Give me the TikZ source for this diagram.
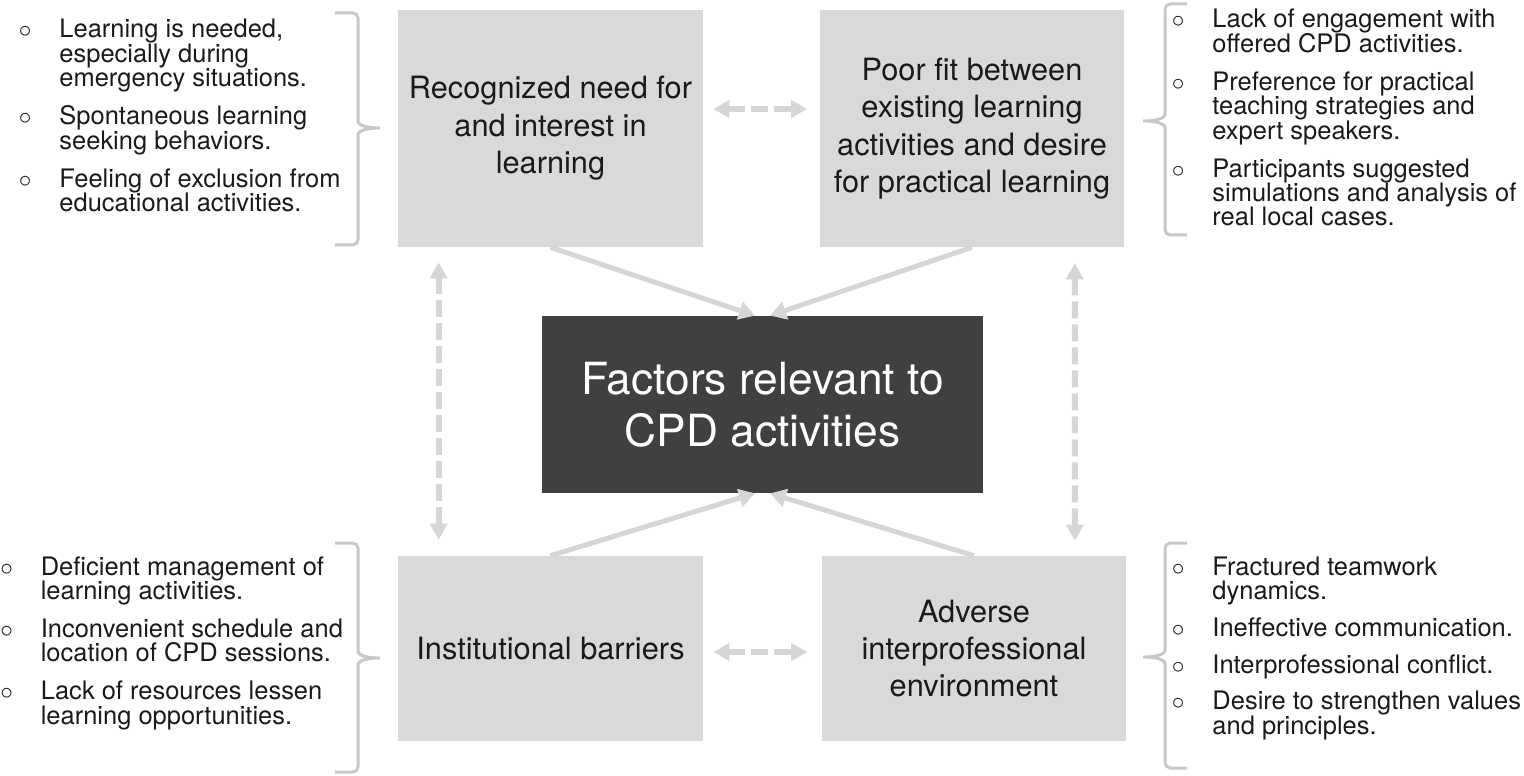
\documentclass[tikz,border=0pt]{standalone}
\usepackage{fontspec}
\usepackage{array}
\setmainfont{TeX Gyre Heros}
\usetikzlibrary{arrows.meta, positioning}
\definecolor{cbox}{HTML}{D9D9D9}
\definecolor{cdark}{HTML}{404040}
\definecolor{carrow}{HTML}{D6D6D6}
\definecolor{cbrace}{HTML}{C8C8C8}
\definecolor{ctext}{HTML}{1A1A1A}
\tikzset{
  box/.style={fill=cbox, text=ctext, align=center, minimum width=6.1cm, minimum height=4.74cm, inner sep=0pt, font=\fontsize{17.5}{21.3}\selectfont},
  core/.style={fill=cdark, text=white, align=center, minimum width=8.82cm, minimum height=3.54cm, inner sep=0pt, font=\fontsize{25.2}{29.6}\selectfont},
  flow/.style={-{Triangle[length=0.32cm, width=0.36cm]}, draw=carrow, line width=0.1cm},
  link/.style={{Triangle[length=0.32cm, width=0.34cm]}-{Triangle[length=0.32cm, width=0.34cm]}, draw=carrow, line width=0.12cm, dash pattern=on 0.34cm off 0.12cm},
  bracket/.style={draw=cbrace, line width=0.06cm, rounded corners=3pt},
  lst/.style={anchor=base west, inner sep=0pt, text=ctext, font=\fontsize{14.5}{13.9}\selectfont},
}
\newcommand{\bl}{$\circ$}
% fixed row pitch: every line is 13.9pt high
\newenvironment{points}{\renewcommand{\arraystretch}{0}%
  \begin{tabular}[t]{@{}p{0.81cm}@{}>{\rule[-3.2pt]{0pt}{13.9pt}}l@{}}}{\end{tabular}}

\begin{document}
\begin{tikzpicture}[x=0.02cm, y=-0.02cm]
  \useasboundingbox (0,0) rectangle (1524,776);

  % the five boxes
  \node[core] (fac) at (762.5,404.5) {Factors relevant to\\CPD activities};
  \node[box] (rec) at (550.5,128.5) {Recognized need for\\and interest in\\learning};
  \node[box] (poor) at (972,128.5) {Poor fit between\\existing learning\\activities and desire\\for practical learning};
  \node[box, minimum height=3.7cm] (ins) at (550.5,648.5) {Institutional barriers};
  \node[box, minimum height=3.7cm] (adv) at (974,648.5) {Adverse\\interprofessional\\environment};

  % arrows into the centre
  \draw[flow] (rec.south) -- ([xshift=-0.15cm]fac.north);
  \draw[flow] (poor.south) -- ([xshift=0.15cm]fac.north);
  \draw[flow] (ins.north) -- ([xshift=-0.15cm]fac.south);
  \draw[flow] (adv.north) -- ([xshift=0.15cm]fac.south);

  % dashed links between the outer boxes
  \draw[link] ([shift={(0.2cm,0.39cm)}]rec.east) -- ([shift={(-0.24cm,0.39cm)}]poor.west);
  \draw[link] ([shift={(0.2cm,-0.07cm)}]ins.east) -- ([shift={(-0.28cm,-0.07cm)}]adv.west);
  \draw[link] ([shift={(0.82cm,-0.3cm)}]rec.south west) -- ([shift={(0.82cm,0.32cm)}]ins.north west);
  \draw[link] ([shift={(-1.0cm,-0.32cm)}]poor.south east) -- ([shift={(-1.04cm,0.3cm)}]adv.north east);

  % brackets
  \draw[bracket] (335,13) -- (358,13) -- (358,116) .. controls (358,126) and (370,128) .. (383,128)
    .. controls (370,128) and (358,130) .. (358,140) -- (358,245) -- (335,245);
  \draw[bracket] (1187,4) -- (1165,4) -- (1165,109) .. controls (1165,119) and (1153,121) .. (1140,121)
    .. controls (1153,121) and (1165,123) .. (1165,133) -- (1165,235) -- (1187,235);
  \draw[bracket] (335,543) -- (358,543) -- (358,646) .. controls (358,656) and (370,658) .. (383,658)
    .. controls (370,658) and (358,660) .. (358,670) -- (358,772) -- (335,772);
  \draw[bracket] (1187,543) -- (1165,543) -- (1165,645) .. controls (1165,655) and (1153,657) .. (1140,657)
    .. controls (1153,657) and (1165,659) .. (1165,669) -- (1165,768) -- (1187,768);

  % lists of findings
  \node[lst] (needs) at (18.6,38) {\begin{points}
    \bl & Learning is needed,\\ & especially during\\ & emergency situations.\\[0.38cm]
    \bl & Spontaneous learning\\ & seeking behaviors.\\[0.38cm]
    \bl & Feeling of exclusion from\\ & educational activities.
  \end{points}};
  \node[lst] (fit) at (1171.6,28) {\begin{points}
    \bl & Lack of engagement with\\ & offered CPD activities.\\[0.38cm]
    \bl & Preference for practical\\ & teaching strategies and\\ & expert speakers.\\[0.38cm]
    \bl & Participants suggested\\ & simulations and analysis of\\ & real local cases.
  \end{points}};
  \node[lst] (barriers) at (0,575) {\begin{points}
    \bl & Deficient management of\\ & learning activities.\\[0.38cm]
    \bl & Inconvenient schedule and\\ & location of CPD sessions.\\[0.38cm]
    \bl & Lack of resources lessen\\ & learning opportunities.
  \end{points}};
  \node[lst] (team) at (1171.6,575) {\begin{points}
    \bl & Fractured teamwork\\ & dynamics.\\[0.36cm]
    \bl & Ineffective communication.\\[0.36cm]
    \bl & Interprofessional conflict.\\[0.36cm]
    \bl & Desire to strengthen values\\ & and principles.
  \end{points}};
\end{tikzpicture}
\end{document}
